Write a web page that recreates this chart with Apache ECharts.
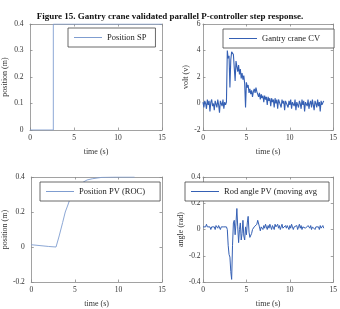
<!DOCTYPE html>
<html>
<head>
<meta charset="utf-8">
<script src="https://cdn.jsdelivr.net/npm/echarts@6/dist/echarts.min.js"></script>
<style>
    html, body { margin: 0; padding: 0; background: #fff; }
    #main { width: 340px; height: 309px; }
</style>
</head>
<body>
<div id="main"></div>
<script>
var titleText = 'Figure 15. Gantry crane validated parallel P-controller step response.';

// position set point (step at ~2.65 s)
var spTime = [0, 2.65, 2.65, 15];
var spValue = [0, 0, 0.4, 0.4];

// gantry crane CV, sampled every 0.1 s from 0 s
var cvStart = 0;
var cvStep = 0.1;
var cvValue = [
    0.1, -0.3, 0.2, 0.0, -0.4, 0.3, -0.1, 0.2, -0.6, 0.1,
    0.3, -0.2, 0.0, -0.5, 0.2, 0.1, -0.3, 0.3, -0.1, -0.7,
    0.2, 0.0, -0.2, 0.3, -0.4, 0.1, -0.1, 0.1, 4.0, 3.4,
    3.6, 1.2, 3.3, 3.9, 4.0, 3.7, 3.8, 1.7, 3.2, 2.8,
    2.4, 2.9, 2.2, 2.6, 1.9, 2.3, 1.8, 2.1, 1.5, -0.3,
    1.6, 1.2, 1.4, 0.8, 1.1, 0.7, 1.0, 0.5, 0.9, 1.1,
    0.8, 1.2, 0.9, 1.0, 0.5, 0.8, 0.3, 0.7, 0.4, 0.6,
    0.1, 0.6, 0.3, 0.5, -0.1, 0.5, 0.2, 0.4, -0.2, 0.4,
    0.1, 0.3, -0.3, 0.4, 0.0, 0.3, -0.4, 0.3, 0.1, 0.2,
    -0.3, 0.3, 0.0, 0.2, -0.5, 0.2, 0.1, 0.3, -0.3, 0.2,
    -0.1, 0.3, -0.4, 0.1, 0.2, -0.2, 0.3, -0.5, 0.1, 0.2,
    -0.3, 0.2, 0.0, -0.4, 0.3, -0.1, 0.2, -0.6, 0.1, 0.2,
    -0.2, 0.3, -0.4, 0.0, 0.2, -0.3, 0.3, -0.1, -0.5, 0.2,
    0.0, -0.3, 0.3, -0.2, 0.1, -0.6, 0.2, -0.1, 0.0, 0.2
];

// position PV (ROC)
var pvTime = [0, 1, 2, 2.84, 3.2, 3.6, 3.9, 4.2, 4.55, 4.7, 5.0, 5.5, 6.0, 6.4, 7.0, 8.1, 9.5, 11.85];
var pvValue = [0.013, 0.008, 0.003, 0.0, 0.063, 0.14, 0.2, 0.24, 0.29, 0.315, 0.33, 0.355, 0.372, 0.383, 0.39, 0.398, 0.4, 0.4];

// rod angle PV (moving avg), sampled every 0.1 s from 0 s
var angleStart = 0;
var angleStep = 0.1;
var angleValue = [
    0.02, 0.03, 0.01, 0.02, 0.04, 0.02, 0.01, 0.03, 0.02, 0.00,
    0.02, 0.03, 0.01, 0.02, 0.00, 0.03, 0.02, 0.01, 0.03, 0.02,
    0.00, 0.02, 0.03, 0.01, 0.02, 0.01, 0.03, 0.02, 0.00, -0.12,
    -0.19, -0.21, -0.32, -0.38, -0.12, 0.05, 0.07, -0.04, 0.05, 0.16,
    0.02, -0.10, 0.00, 0.05, -0.08, -0.03, 0.07, -0.05, -0.08, 0.02,
    -0.04, 0.05, 0.10, -0.02, -0.06, -0.07, -0.03, 0.00, -0.01, 0.02,
    0.03, 0.01, 0.04, 0.07, 0.06, 0.02, -0.01, 0.02, 0.03, 0.00,
    0.03, 0.01, 0.04, 0.02, 0.00, 0.03, 0.01, 0.04, 0.02, 0.00,
    0.03, 0.02, 0.00, 0.04, 0.02, 0.01, 0.04, 0.01, 0.03, 0.00,
    0.02, 0.04, 0.01, 0.02, 0.00, 0.03, 0.01, 0.03, 0.02, 0.00,
    0.03, 0.01, 0.04, 0.02, 0.00, 0.02, 0.03, 0.01, 0.03, 0.00,
    0.02, 0.04, 0.01, 0.03, 0.00, 0.02, 0.01, 0.03, 0.01, 0.02,
    0.00, 0.03, 0.02, 0.01, 0.03, 0.00, 0.02, 0.01, 0.03, 0.00,
    0.02, 0.03, 0.01, 0.02, 0.00, 0.03, 0.01, 0.02, 0.03, 0.01
];

// axis ranges [min, max, interval]
var timeRange = [0, 15, 5];
var spRange = [0, 0.4, 0.1];
var cvRange = [-2, 6, 2];
var pvRange = [-0.2, 0.4, 0.2];
var angleRange = [-0.4, 0.4, 0.2];

var serif = 'Liberation Serif';
var axisColor = '#8a8a8a';
var textColor = '#333';
var paleBlue = '#7f9dd0';
var darkBlue = '#3560b4';

function pairs(times, values) {
    var out = [];
    for (var i = 0; i < values.length; i++) {
        out.push([times[i], values[i]]);
    }
    return out;
}

function sampled(start, step, values) {
    var out = [];
    for (var i = 0; i < values.length; i++) {
        out.push([+(start + i * step).toFixed(2), values[i]]);
    }
    return out;
}

function xAxisMain(grid) {
    return {
        type: 'value', gridIndex: grid,
        min: timeRange[0], max: timeRange[1], interval: timeRange[2],
        name: 'time (s)', nameLocation: 'middle', nameGap: 18,
        nameTextStyle: {fontFamily: serif, fontSize: 8, color: textColor},
        axisLine: {onZero: false, lineStyle: {color: axisColor, width: 0.8}},
        axisTick: {inside: true, length: 2.5, lineStyle: {color: axisColor, width: 0.8}},
        axisLabel: {fontFamily: serif, fontSize: 7.5, color: textColor, margin: 4},
        splitLine: {show: false}
    };
}

function xAxisTop(grid) {
    return {
        type: 'value', gridIndex: grid, position: 'top',
        min: timeRange[0], max: timeRange[1], interval: timeRange[2],
        axisLine: {onZero: false, lineStyle: {color: axisColor, width: 0.8}},
        axisTick: {inside: true, length: 2.5, lineStyle: {color: axisColor, width: 0.8}},
        axisLabel: {show: false},
        splitLine: {show: false}
    };
}

function yAxisMain(grid, range, name, margin, gap) {
    return {
        type: 'value', gridIndex: grid,
        min: range[0], max: range[1], interval: range[2],
        name: name, nameLocation: 'middle', nameGap: gap,
        nameTextStyle: {fontFamily: serif, fontSize: 8, color: textColor},
        axisLine: {show: true, onZero: false, lineStyle: {color: axisColor, width: 0.8}},
        axisTick: {show: true, inside: true, length: 2.5, lineStyle: {color: axisColor, width: 0.8}},
        axisLabel: {fontFamily: serif, fontSize: 7.5, color: textColor, margin: margin},
        splitLine: {show: false}
    };
}

function yAxisRight(grid, range) {
    return {
        type: 'value', gridIndex: grid, position: 'right',
        min: range[0], max: range[1], interval: range[2],
        axisLine: {show: true, onZero: false, lineStyle: {color: axisColor, width: 0.8}},
        axisTick: {show: true, inside: true, length: 2.5, lineStyle: {color: axisColor, width: 0.8}},
        axisLabel: {show: false},
        splitLine: {show: false}
    };
}

// 图例框: 细线图标 + 文字, 白底遮住下面的曲线
function legendBox(name, left, top, padRight, color) {
    return {
        data: [name], left: left, top: top,
        orient: 'horizontal',
        padding: [5, padRight, 5, 6],
        icon: 'rect',
        itemWidth: 28, itemHeight: 1, itemGap: 4,
        itemStyle: {color: color},
        backgroundColor: '#fff',
        borderColor: '#444', borderWidth: 0.8, borderRadius: 0,
        textStyle: {fontFamily: serif, fontSize: 8.5, color: '#222'}
    };
}

function lineSeries(name, axis, data, color, width) {
    return {
        name: name, type: 'line',
        xAxisIndex: axis, yAxisIndex: axis,
        data: data, symbol: 'none', animation: false,
        lineStyle: {color: color, width: width},
        itemStyle: {color: color}
    };
}

var myChart = echarts.init(document.getElementById('main'));

var option = {
    backgroundColor: '#fff',
    animation: false,
    title: {
        text: titleText, left: 'center', top: 7,
        textStyle: {fontFamily: serif, fontSize: 9, fontWeight: 'bold', color: '#111'}
    },
    grid: [
        {left: 30, top: 24, width: 132, height: 106},
        {left: 203, top: 24, width: 134, height: 106},
        {left: 30, top: 177, width: 132, height: 106},
        {left: 203, top: 177, width: 133, height: 106}
    ],
    xAxis: [
        xAxisMain(0), xAxisMain(1), xAxisMain(2), xAxisMain(3),
        xAxisTop(0), xAxisTop(1), xAxisTop(2), xAxisTop(3)
    ],
    yAxis: [
        yAxisMain(0, spRange, 'position (m)', 6.5, 21),
        yAxisMain(1, cvRange, 'volt (v)', 2.5, 10),
        yAxisMain(2, pvRange, 'position (m)', 6.5, 21),
        yAxisMain(3, angleRange, 'angle (rad)', 2.5, 10),
        yAxisRight(0, spRange), yAxisRight(1, cvRange),
        yAxisRight(2, pvRange), yAxisRight(3, angleRange)
    ],
    legend: [
        legendBox('Position SP', 68, 28, 9, paleBlue),
        legendBox('Gantry crane CV', 223, 29, 14, darkBlue),
        legendBox('Position PV (ROC)', 40, 182, 15, paleBlue),
        legendBox('Rod angle PV (moving avg', 185, 182, 12, darkBlue)
    ],
    series: [
        lineSeries('Position SP', 0, pairs(spTime, spValue), paleBlue, 0.9),
        lineSeries('Gantry crane CV', 1, sampled(cvStart, cvStep, cvValue), darkBlue, 1.1),
        lineSeries('Position PV (ROC)', 2, pairs(pvTime, pvValue), paleBlue, 0.9),
        lineSeries('Rod angle PV (moving avg', 3, sampled(angleStart, angleStep, angleValue), darkBlue, 1)
    ]
};

myChart.setOption(option);
</script>
</body>
</html>
